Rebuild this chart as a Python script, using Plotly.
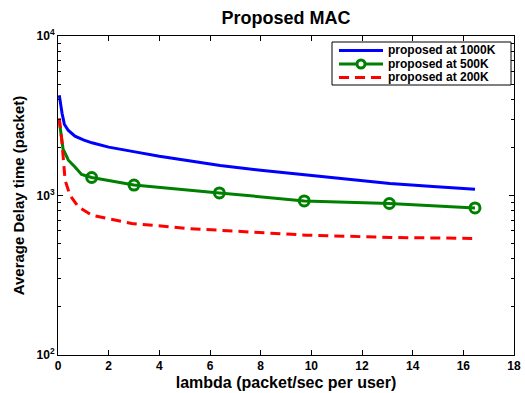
import plotly.graph_objects as go

# ---- data ----
blue_x = [0.05, 0.1, 0.16, 0.25, 0.4, 0.67, 1.0, 1.34, 2.0, 3.04, 4.0, 5.3, 6.4, 8.0, 9.8, 11.5, 13.1, 14.8, 16.46]
blue_y = [4250, 3700, 3280, 2800, 2565, 2355, 2230, 2140, 2010, 1877, 1760, 1640, 1540, 1440, 1341, 1260, 1189, 1140, 1094]

green_x = [0.05, 0.1, 0.2, 0.28, 0.41, 0.67, 0.93, 1.33, 3.0, 6.37, 9.72, 13.08, 16.46]
green_y = [2950, 2500, 1950, 1840, 1665, 1510, 1355, 1297, 1162, 1038, 925, 891, 836]
green_mark_x = [1.33, 3.0, 6.37, 9.72, 13.08, 16.46]
green_mark_y = [1297, 1162, 1038, 925, 891, 836]

red_x = [0.05, 0.1, 0.15, 0.28, 0.47, 0.8, 1.33, 2.91, 5.13, 9.8, 13.1, 16.35]
red_y = [3050, 2700, 2220, 1248, 1005, 849, 753, 668, 621, 564, 546, 538]

names = ["proposed at 1000K", "proposed at 500K", "proposed at 200K"]
x_ticks = [0, 2, 4, 6, 8, 10, 12, 14, 16, 18]
y_ticks = [100, 1000, 10000]
y_ticktext = ["10<sup>2</sup>", "10<sup>3</sup>", "10<sup>4</sup>"]
y_minor = [m * d for d in (100, 1000) for m in range(2, 10)]

FONT = "Liberation Sans, Arial, Helvetica, sans-serif"
BLUE, GREEN, RED = "#0000FF", "#008000", "#FF0000"
RED_DASH = "10px,6px"

fig = go.Figure()
fig.add_trace(go.Scatter(x=blue_x, y=blue_y, mode="lines", name=names[0],
                         line=dict(color=BLUE, width=3)))
fig.add_trace(go.Scatter(x=green_x, y=green_y, mode="lines", name=names[1],
                         line=dict(color=GREEN, width=3)))
fig.add_trace(go.Scatter(x=green_mark_x, y=green_mark_y, mode="markers", name=names[1],
                         marker=dict(symbol="circle-open", size=10, color=GREEN,
                                     line=dict(color=GREEN, width=3))))
fig.add_trace(go.Scatter(x=red_x, y=red_y, mode="lines", name=names[2],
                         line=dict(color=RED, width=3, dash=RED_DASH)))

# ---- legend box (MATLAB-style, compact rows) in plot-domain coordinates ----
PW, PH = 456.0, 319.0
def dx(px):
    return (px - 58) / PW
def dy(py):
    return (355 - py) / PH

LX0, LX1, LY0, LY1 = dx(332), dx(511), dy(85), dy(42)
row_y = [dy(50.5), dy(64), dy(77.5)]
samp_x0, samp_x1, text_x = dx(339), dx(383), dx(387)
styles = [dict(color=BLUE, width=3), dict(color=GREEN, width=3),
          dict(color=RED, width=3, dash=RED_DASH)]
shapes = [dict(type="rect", xref="x domain", yref="y domain", x0=LX0, x1=LX1,
               y0=LY0, y1=LY1, line=dict(color="black", width=1),
               fillcolor="white", layer="above")]
annotations = []
for i, (yy, st) in enumerate(zip(row_y, styles)):
    shapes.append(dict(type="line", xref="x domain", yref="y domain",
                       x0=samp_x0, x1=samp_x1, y0=yy, y1=yy, line=st, layer="above"))
    annotations.append(dict(text=names[i], xref="x domain", yref="y domain",
                            x=text_x, y=yy, xanchor="left", yanchor="middle",
                            showarrow=False, borderpad=0,
                            font=dict(family=FONT, size=12, color="black", weight="bold")))
# marker on the green legend sample
mx = (samp_x0 + samp_x1) / 2
shapes.append(dict(type="circle", xref="x domain", yref="y domain",
                   x0=mx - 4 / PW, x1=mx + 4 / PW,
                   y0=row_y[1] - 4 / PH, y1=row_y[1] + 4 / PH,
                   line=dict(color=GREEN, width=3), fillcolor="white", layer="above"))

fig.update_layout(
    width=525, height=393,
    margin=dict(l=58, r=11, t=36, b=38),
    paper_bgcolor="white", plot_bgcolor="white",
    font=dict(family=FONT, size=12, color="black", weight="bold"),
    title=dict(text="Proposed MAC", x=0.5, xref="paper", y=1 - 18 / 393,
               yref="container", yanchor="middle", xanchor="center",
               font=dict(family=FONT, size=18, color="black", weight="bold")),
    showlegend=False,
    shapes=shapes,
    annotations=annotations,
)
fig.update_xaxes(
    range=[0, 18], tickvals=x_ticks, ticks="inside", ticklen=5, tickwidth=1,
    tickcolor="black", showline=True, linecolor="black", linewidth=1,
    mirror="ticks", showgrid=False, zeroline=False, automargin=False,
    title=dict(text="lambda (packet/sec per user)", standoff=4,
               font=dict(family=FONT, size=16, color="black", weight="bold")),
    tickfont=dict(family=FONT, size=12, color="black", weight="bold"),
)
fig.update_yaxes(
    type="log", range=[2, 4], tickvals=y_ticks, ticktext=y_ticktext,
    ticks="inside", ticklen=5, tickwidth=1, tickcolor="black",
    showline=True, linecolor="black", linewidth=1, mirror="ticks",
    showgrid=False, zeroline=False, automargin=False,
    minor=dict(tickvals=y_minor, ticks="inside", ticklen=3, tickcolor="black",
               showgrid=False),
    title=dict(text="Average Delay time (packet)", standoff=8,
               font=dict(family=FONT, size=15, color="black", weight="bold")),
    tickfont=dict(family=FONT, size=12, color="black", weight="bold"),
)

fig.write_html("out.html")
